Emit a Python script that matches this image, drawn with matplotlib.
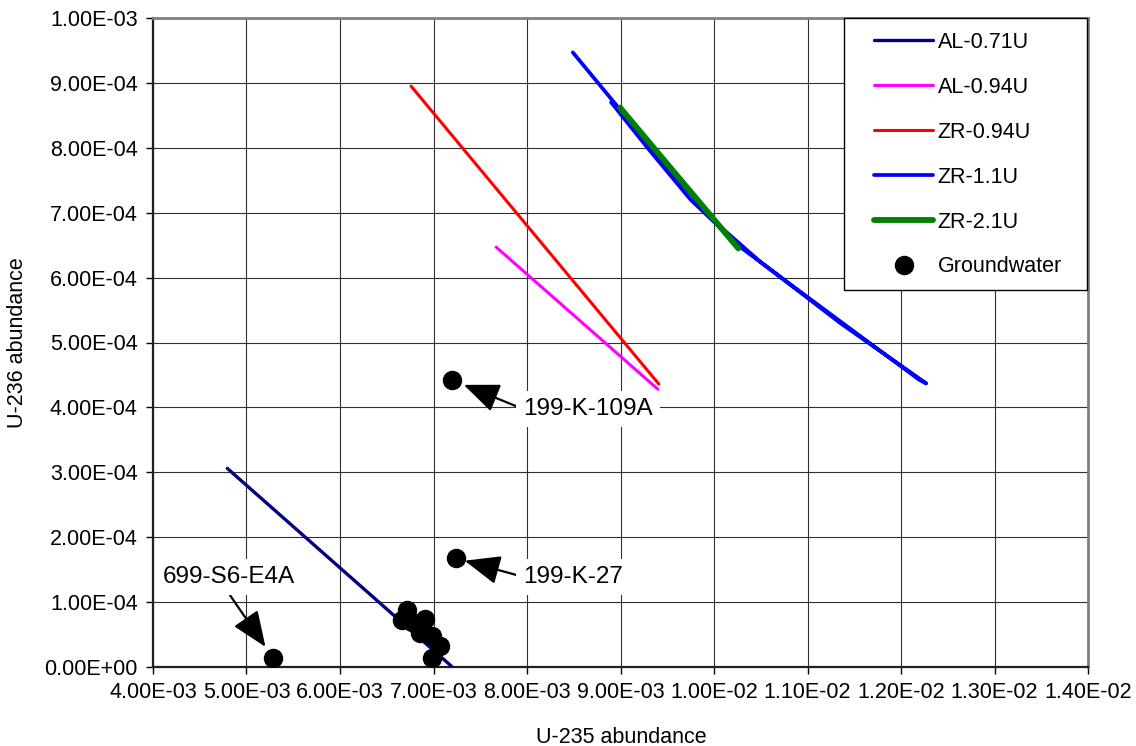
import matplotlib
matplotlib.use("Agg")
import matplotlib.pyplot as plt
from matplotlib.patches import Rectangle
from matplotlib.ticker import FuncFormatter, MultipleLocator

plt.rcParams['font.family'] = ['Liberation Sans', 'DejaVu Sans']

# ---------------- data ----------------
al071_x = [4.795e-3, 7.19e-3]
al071_y = [3.06e-4, 1.5e-6]

al094_x = [7.67e-3, 9.40e-3]
al094_y = [6.47e-4, 4.28e-4]

zr094_x = [6.76e-3, 9.41e-3]
zr094_y = [8.95e-4, 4.36e-4]

zr11_x = [8.49e-3, 9.00e-3, 9.50e-3, 10.00e-3, 10.49e-3, 11.35e-3, 12.27e-3,
          12.20e-3, 11.00e-3, 10.30e-3, 9.75e-3, 9.30e-3, 8.90e-3]
zr11_y = [9.47e-4, 8.58e-4, 7.72e-4, 6.87e-4, 6.25e-4, 5.30e-4, 4.37e-4,
          4.42e-4, 5.70e-4, 6.45e-4, 7.20e-4, 7.98e-4, 8.70e-4]

zr21_x = [8.995e-3, 9.60e-3, 10.26e-3]
zr21_y = [8.62e-4, 7.58e-4, 6.45e-4]

gw_x = [5.287e-3, 7.20e-3, 7.24e-3, 6.717e-3, 6.663e-3, 6.909e-3, 6.856e-3,
        6.984e-3, 7.07e-3, 6.984e-3, 6.77e-3]
gw_y = [1.34e-5, 4.42e-4, 1.675e-4, 8.8e-5, 7.2e-5, 7.4e-5, 5.2e-5,
        4.8e-5, 3.2e-5, 1.4e-5, 6.9e-5]

labels = ['AL-0.71U', 'AL-0.94U', 'ZR-0.94U', 'ZR-1.1U', 'ZR-2.1U', 'Groundwater']
ann_labels = ['699-S6-E4A', '199-K-109A', '199-K-27']
ann_index = [0, 1, 2]

# ---------------- figure ----------------
W, H = 1136, 746
fig = plt.figure(figsize=(W / 100, H / 100), dpi=100)
ax = fig.add_axes([153 / W, (H - 667) / H, (1088 - 153) / W, (667 - 18) / H])

ax.set_xlim(4e-3, 1.4e-2)
ax.set_ylim(0, 1e-3)
ax.xaxis.set_major_locator(MultipleLocator(1e-3))
ax.yaxis.set_major_locator(MultipleLocator(1e-4))
fmt = FuncFormatter(lambda v, p: '{:.2E}'.format(v))
ax.xaxis.set_major_formatter(fmt)
ax.yaxis.set_major_formatter(fmt)

ax.grid(True, color='#303030', lw=0.8, zorder=0)
ax.set_axisbelow(True)

ax.plot(al071_x, al071_y, color='#000080', lw=2.4, label=labels[0], zorder=3,
        solid_capstyle='round')
ax.plot(al094_x, al094_y, color='#FF00FF', lw=2.2, label=labels[1], zorder=3,
        solid_capstyle='round')
ax.plot(zr094_x, zr094_y, color='#FF0000', lw=2.2, label=labels[2], zorder=3,
        solid_capstyle='round')
ax.plot(zr11_x, zr11_y, color='#0000FF', lw=2.7, label=labels[3], zorder=3,
        solid_capstyle='round', solid_joinstyle='round')
ax.plot(zr21_x, zr21_y, color='#008000', lw=4.2, label=labels[4], zorder=4,
        solid_capstyle='round')
ax.plot(gw_x, gw_y, ls='none', marker='o', ms=13, color='black', label=labels[5],
        zorder=5)

# annotations
ann_text_pos = [(4.813e-3, 1.387e-4), (8.652e-3, 3.975e-4), (8.497e-3, 1.387e-4)]
ann_shrink = [10, 9, 6.5]
ann_relpos = [(0.47, 0.0), (0.0, 0.5), (0.0, 0.5)]
for lab, idx, pos, shr, rp in zip(ann_labels, ann_index, ann_text_pos,
                                  ann_shrink, ann_relpos):
    ax.annotate(lab, xy=(gw_x[idx], gw_y[idx]), xytext=pos,
                ha='center', va='center', fontsize=17.5, zorder=6,
                bbox=dict(boxstyle='square,pad=0.3', fc='white', ec='none'),
                arrowprops=dict(arrowstyle='-|>,head_length=1.1,head_width=0.45',
                                mutation_scale=20, color='black', lw=1.6,
                                shrinkA=0, shrinkB=shr, relpos=rp))

# spines
for s in ['left', 'bottom']:
    ax.spines[s].set_color('#202020')
    ax.spines[s].set_linewidth(1.6)
for s in ['top', 'right']:
    ax.spines[s].set_color('#808080')
    ax.spines[s].set_linewidth(2.0)

ax.tick_params(axis='both', direction='out', length=5, width=1.0, labelsize=15.5,
               colors='black')
ax.tick_params(axis='y', pad=6)
ax.tick_params(axis='x', pad=6)

ax.set_xlabel('U-235 abundance', fontsize=15.5)
ax.set_ylabel('U-236 abundance', fontsize=15.5)
ax.xaxis.set_label_coords(0.5005, -0.0925)
ax.yaxis.set_label_coords(-0.134, 0.5)

# legend
frame = Rectangle((844 / W, (H - 290) / H), (1087 - 844) / W, (290 - 18) / H,
                  transform=fig.transFigure, fc='white', ec='black', lw=1.0,
                  zorder=7, clip_on=False)
ax.add_patch(frame)
leg = ax.legend(loc='upper left', bbox_to_anchor=(874 / W, (H - 32) / H),
                bbox_transform=fig.transFigure, frameon=False, fontsize=15.5,
                borderpad=0, borderaxespad=0, handlelength=2.75,
                handletextpad=0.2, labelspacing=1.11)
leg.set_zorder(8)

fig.savefig('out.png', dpi=100)
